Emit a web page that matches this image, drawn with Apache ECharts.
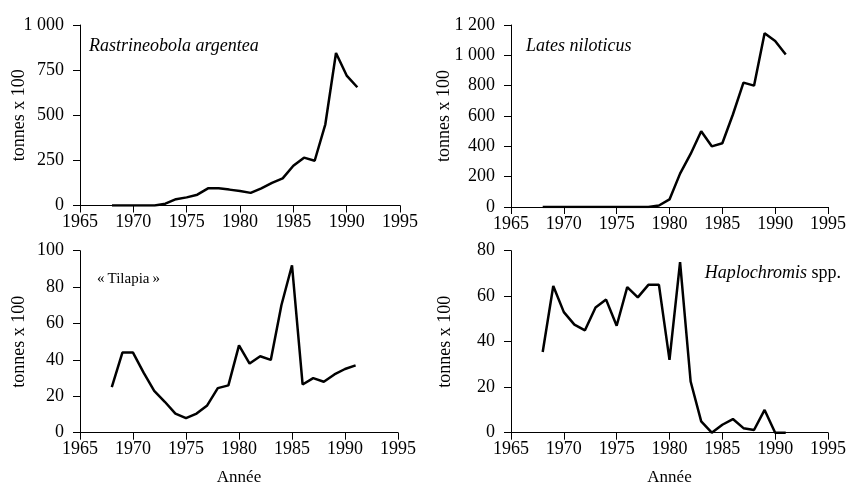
<!DOCTYPE html>
<html>
<head>
<meta charset="utf-8">
<script src="https://cdn.jsdelivr.net/npm/echarts@6/dist/echarts.min.js"></script>
<style>
  html, body { margin: 0; padding: 0; background: #fff; }
  #main { width: 846px; height: 484px; }
</style>
</head>
<body>
<div id="main"></div>
<script>
// données (tonnes x 100)
var years = [1968, 1969, 1970, 1971, 1972, 1973, 1974, 1975, 1976, 1977, 1978, 1979,
             1980, 1981, 1982, 1983, 1984, 1985, 1986, 1987, 1988, 1989, 1990, 1991];
var rastrineobola = [0, 0, 0, 0, 0, 10, 35, 45, 60, 95, 95, 88,
                     80, 70, 95, 125, 150, 220, 265, 248, 450, 845, 720, 655];
var lates = [0, 0, 0, 0, 0, 0, 0, 0, 0, 0, 0, 10,
             50, 220, 350, 500, 400, 420, 610, 820, 800, 1145, 1095, 1005];
var tilapia = [25, 44, 44, 33, 23, 17, 10.5, 8, 10.5, 15, 24.5, 26,
               48, 38, 42, 40, 70, 92, 26.5, 30, 28, 32, 35, 37];
var haplochromis = [35.5, 64.5, 53, 47.5, 45, 55, 58.5, 47, 64, 59.5, 65, 65,
                    32, 75, 22.5, 5, 0, 3.5, 6, 2, 1.2, 10, 0, 0];
var yearTicks = [1965, 1995, 5];
var yMax = [1000, 1200, 100, 80];
var yStep = [250, 200, 20, 20];

var FONT = '"Liberation Serif", "DejaVu Serif", serif';

function pairs(vals) {
    return years.map(function (y, i) { return [y, vals[i]]; });
}

// séparateur des milliers : espace
function fmt(v) {
    return v >= 1000 ? Math.floor(v / 1000) + ' ' + String(v % 1000).padStart(3, '0') : String(v);
}

var grids = [
    { left: 80, right: 446, top: 25, bottom: 278.5, outerBoundsMode: 'none' },
    { left: 511, right: 18, top: 25, bottom: 277, outerBoundsMode: 'none' },
    { left: 80, right: 448, top: 250.7, bottom: 51.3, outerBoundsMode: 'none' },
    { left: 511, right: 18, top: 250.7, bottom: 51.3, outerBoundsMode: 'none' }
];
var nameGaps = [52, 58, 52, 57];

var xAxes = [], yAxes = [];
for (var i = 0; i < 4; i++) {
    xAxes.push({
        type: 'value',
        gridIndex: i,
        min: yearTicks[0],
        max: yearTicks[1],
        interval: yearTicks[2],
        name: i >= 2 ? 'Année' : '',
        nameLocation: 'middle',
        nameGap: 36,
        nameMoveOverlap: false,
        nameTextStyle: { fontFamily: FONT, fontSize: 17, color: '#000' },
        axisLine: { show: true, lineStyle: { color: '#000', width: 1 } },
        axisTick: { show: true, length: 7, lineStyle: { color: '#000' } },
        axisLabel: { fontFamily: FONT, fontSize: 18, color: '#000', margin: 8,
                     formatter: function (v) { return String(v); } },
        splitLine: { show: false }
    });
    yAxes.push({
        type: 'value',
        gridIndex: i,
        min: 0,
        max: yMax[i],
        interval: yStep[i],
        name: 'tonnes x 100',
        nameLocation: 'middle',
        nameGap: nameGaps[i],
        nameMoveOverlap: false,
        nameTextStyle: { fontFamily: FONT, fontSize: 18, color: '#000' },
        axisLine: { show: true, lineStyle: { color: '#000', width: 1 } },
        axisTick: { show: true, length: 7, lineStyle: { color: '#000' } },
        axisLabel: { fontFamily: FONT, fontSize: 18, color: '#000', margin: 16, formatter: fmt },
        splitLine: { show: false }
    });
}

var seriesData = [rastrineobola, lates, tilapia, haplochromis];
var series = seriesData.map(function (d, i) {
    return {
        type: 'line',
        xAxisIndex: i,
        yAxisIndex: i,
        data: pairs(d),
        showSymbol: false,
        lineStyle: { color: '#000', width: 2.5 },
        animation: false
    };
});

var chart = echarts.init(document.getElementById('main'));
chart.setOption({
    backgroundColor: '#fff',
    animation: false,
    title: [
        { text: 'Rastrineobola argentea', left: 89, top: 37, padding: 0,
          textStyle: { fontFamily: FONT, fontSize: 18, fontStyle: 'italic', fontWeight: 'normal', color: '#000' } },
        { text: 'Lates niloticus', left: 526, top: 37, padding: 0,
          textStyle: { fontFamily: FONT, fontSize: 18, fontStyle: 'italic', fontWeight: 'normal', color: '#000' } },
        { text: '«\u2009Tilapia\u2009»', left: 97, top: 272, padding: 0,
          textStyle: { fontFamily: FONT, fontSize: 15, fontWeight: 'normal', color: '#000' } },
        { text: '{i|Haplochromis} {n|spp.}', right: 5, top: 264, padding: 0,
          textStyle: {
              fontFamily: FONT, fontSize: 18, fontWeight: 'normal', color: '#000',
              rich: {
                  i: { fontFamily: FONT, fontSize: 18, fontStyle: 'italic', color: '#000' },
                  n: { fontFamily: FONT, fontSize: 18, color: '#000' }
              }
          } }
    ],
    grid: grids,
    xAxis: xAxes,
    yAxis: yAxes,
    series: series
});
</script>
</body>
</html>
